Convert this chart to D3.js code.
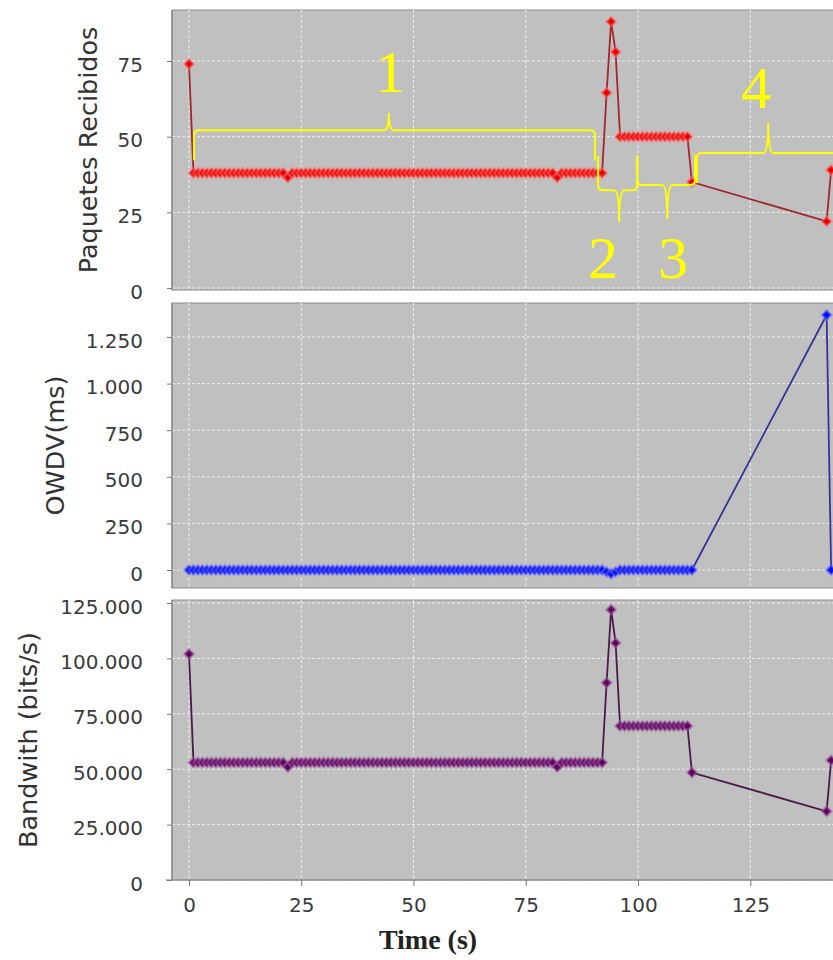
<!DOCTYPE html>
<html>
<head>
<meta charset="utf-8">
<script src="https://cdn.jsdelivr.net/npm/d3@7"></script>
<style>
  body { margin: 0; background: #fff; }
  svg { display: block; }
</style>
</head>
<body>
<svg id="chart" width="833" height="960"></svg>
<script>
// time axis (s)
var times = [
  0, 1, 2, 3, 4, 5, 6, 7, 8, 9, 10, 11, 12, 13, 14, 15, 16, 17, 18, 19,
  20, 21, 22, 23, 24, 25, 26, 27, 28, 29, 30, 31, 32, 33, 34, 35, 36, 37, 38, 39,
  40, 41, 42, 43, 44, 45, 46, 47, 48, 49, 50, 51, 52, 53, 54, 55, 56, 57, 58, 59,
  60, 61, 62, 63, 64, 65, 66, 67, 68, 69, 70, 71, 72, 73, 74, 75, 76, 77, 78, 79,
  80, 81, 82, 83, 84, 85, 86, 87, 88, 89, 90, 91, 92, 93, 94, 95, 96, 97, 98, 99,
  100, 101, 102, 103, 104, 105, 106, 107, 108, 109, 110, 111, 112, 142, 143
];

var paquetes = [
  74, 38, 38, 38, 38, 38, 38, 38, 38, 38, 38, 38, 38, 38, 38, 38, 38, 38, 38, 38,
  38, 38, 36.5, 38, 38, 38, 38, 38, 38, 38, 38, 38, 38, 38, 38, 38, 38, 38, 38, 38,
  38, 38, 38, 38, 38, 38, 38, 38, 38, 38, 38, 38, 38, 38, 38, 38, 38, 38, 38, 38,
  38, 38, 38, 38, 38, 38, 38, 38, 38, 38, 38, 38, 38, 38, 38, 38, 38, 38, 38, 38,
  38, 38, 36.5, 38, 38, 38, 38, 38, 38, 38, 38, 38, 38, 64.5, 88, 78, 50, 50, 50, 50,
  50, 50, 50, 50, 50, 50, 50, 50, 50, 50, 50, 50, 35, 22, 39
];

var owdv = [
  0, 0, 0, 0, 0, 0, 0, 0, 0, 0, 0, 0, 0, 0, 0, 0, 0, 0, 0, 0,
  0, 0, 0, 0, 0, 0, 0, 0, 0, 0, 0, 0, 0, 0, 0, 0, 0, 0, 0, 0,
  0, 0, 0, 0, 0, 0, 0, 0, 0, 0, 0, 0, 0, 0, 0, 0, 0, 0, 0, 0,
  0, 0, 0, 0, 0, 0, 0, 0, 0, 0, 0, 0, 0, 0, 0, 0, 0, 0, 0, 0,
  0, 0, 0, 0, 0, 0, 0, 0, 0, 0, 0, 0, 0, -10, -20, -10, 0, 0, 0, 0,
  0, 0, 0, 0, 0, 0, 0, 0, 0, 0, 0, 0, 0, 1368, 0
];

var bandwidth = [
  102000, 53000, 53000, 53000, 53000, 53000, 53000, 53000, 53000, 53000,
  53000, 53000, 53000, 53000, 53000, 53000, 53000, 53000, 53000, 53000,
  53000, 53000, 51000, 53000, 53000, 53000, 53000, 53000, 53000, 53000,
  53000, 53000, 53000, 53000, 53000, 53000, 53000, 53000, 53000, 53000,
  53000, 53000, 53000, 53000, 53000, 53000, 53000, 53000, 53000, 53000,
  53000, 53000, 53000, 53000, 53000, 53000, 53000, 53000, 53000, 53000,
  53000, 53000, 53000, 53000, 53000, 53000, 53000, 53000, 53000, 53000,
  53000, 53000, 53000, 53000, 53000, 53000, 53000, 53000, 53000, 53000,
  53000, 53000, 51000, 53000, 53000, 53000, 53000, 53000, 53000, 53000,
  53000, 53000, 53000, 89000, 122000, 107000, 69500, 69500, 69500, 69500,
  69500, 69500, 69500, 69500, 69500, 69500, 69500, 69500, 69500, 69500,
  69500, 69500, 48500, 31000, 54000
];

var xTicks = [0, 25, 50, 75, 100, 125];
var paquetesTicks = [0, 25, 50, 75];
var owdvTicks = [0, 250, 500, 750, 1000, 1250];
var bandwidthTicks = [0, 25000, 50000, 75000, 100000, 125000];

// yellow phase braces on the top panel (time / packets units)
var braceLabels = ["1", "2", "3", "4"];
var braceStart = [1.1, 91.1, 99.8, 113.1];
var braceEnd = [90.4, 99.8, 112.7, 150];
var braceMid = [44.5, 95.8, 106.5, 129];
var braceLine = [52.1, 32.3, 34, 44.6];
var braceTip = [42.2, 43.6, 43.9, 34.7];
var braceCusp = [57.8, 21.8, 22.8, 54.5];
var labelX = [44.8, 92.2, 107.8, 126.3];
var labelY = [64.7, 3.3, 3.3, 59.4];

var fmt = d3.formatLocale({decimal: ",", thousands: ".", grouping: [3], currency: ["", ""]}).format(",");

var svg = d3.select("#chart");
var plotLeft = 172, plotRight = 860;

var x = d3.scaleLinear().domain([0, 125]).range([189, 750.3]);

var panels = [
  {values: paquetes, ticks: paquetesTicks, title: "Paquetes Recibidos", top: 10, bottom: 290,
   y: d3.scaleLinear().domain([0, 75]).range([288, 61]),
   marker: "#e80000", halo: "#ff6a6a", line: "#a3262a", titleX: 88},
  {values: owdv, ticks: owdvTicks, title: "OWDV(ms)", top: 303, bottom: 588,
   y: d3.scaleLinear().domain([0, 1250]).range([570, 337]),
   marker: "#0010e8", halo: "#6a6aff", line: "#333399", titleX: 55},
  {values: bandwidth, ticks: bandwidthTicks, title: "Bandwith (bits/s)", top: 600, bottom: 880,
   y: d3.scaleLinear().domain([0, 125000]).range([880, 603]),
   marker: "#5e005e", halo: "#a060a0", line: "#4a1a4a", titleX: 28}
];

var diamond = d3.symbol().type(d3.symbolSquare).size(44);

panels.forEach(function(p, i) {
  var g = svg.append("g");

  g.append("rect")
    .attr("x", plotLeft)
    .attr("y", p.top)
    .attr("width", plotRight - plotLeft)
    .attr("height", p.bottom - p.top)
    .attr("fill", "#c0c0c0")
    .attr("stroke", "#8c8c8c");

  // grid
  g.selectAll(".vgrid")
    .data(xTicks)
    .enter()
    .append("line")
    .attr("x1", function(d) { return x(d); })
    .attr("x2", function(d) { return x(d); })
    .attr("y1", p.top)
    .attr("y2", p.bottom)
    .attr("stroke", "#eeeeee")
    .attr("stroke-dasharray", "3,2");

  g.selectAll(".hgrid")
    .data(p.ticks)
    .enter()
    .append("line")
    .attr("x1", plotLeft)
    .attr("x2", plotRight)
    .attr("y1", function(d) { return p.y(d); })
    .attr("y2", function(d) { return p.y(d); })
    .attr("stroke", "#eeeeee")
    .attr("stroke-dasharray", "3,2");

  // Y axis
  var yAxis = d3.axisLeft(p.y)
    .tickValues(p.ticks)
    .tickSize(5)
    .tickPadding(24)
    .tickFormat(fmt);

  var ya = g.append("g")
    .attr("transform", "translate(" + plotLeft + ",0)")
    .call(yAxis);
  ya.select(".domain").attr("stroke", "#777").attr("d", "M0," + p.top + "V" + p.bottom);
  ya.selectAll(".tick line").attr("stroke", "#777");
  ya.selectAll("text")
    .attr("dy", "0.5em")
    .style("font-family", "DejaVu Sans")
    .style("font-size", "20px")
    .attr("fill", "#3a3a3a");

  g.append("text")
    .attr("transform", "translate(" + p.titleX + "," + (p.top + p.bottom) / 2 + ")rotate(-90)")
    .attr("text-anchor", "middle")
    .attr("dy", "0.36em")
    .style("font-family", "DejaVu Sans")
    .style("font-size", "25.5px")
    .attr("fill", "#333")
    .text(p.title);

  // series
  var line = d3.line()
    .x(function(d, j) { return x(times[j]); })
    .y(function(d) { return p.y(d); });

  g.append("path")
    .datum(p.values)
    .attr("d", line)
    .attr("fill", "none")
    .attr("stroke", p.line)
    .attr("stroke-width", 1.8);

  g.selectAll(".pt")
    .data(p.values)
    .enter()
    .append("path")
    .attr("d", diamond)
    .attr("transform", function(d, j) {
      return "translate(" + x(times[j]) + "," + p.y(d) + ")rotate(45)";
    })
    .attr("fill", p.marker)
    .attr("stroke", p.halo)
    .attr("stroke-opacity", 0.5)
    .attr("stroke-width", 2.5);
});

// X axis under the bottom panel
var xAxis = d3.axisBottom(x)
  .tickValues(xTicks)
  .tickSize(6)
  .tickPadding(12);

var xa = svg.append("g")
  .attr("transform", "translate(0,880)")
  .call(xAxis);
xa.select(".domain").attr("stroke", "#777").attr("d", "M166,0H" + plotRight);
xa.selectAll(".tick line").attr("stroke", "#777");
xa.selectAll("text")
  .style("font-family", "DejaVu Sans")
  .style("font-size", "20px")
  .attr("fill", "#3a3a3a");

svg.append("text")
  .attr("x", 428)
  .attr("y", 949)
  .attr("text-anchor", "middle")
  .style("font-family", "Liberation Serif")
  .style("font-weight", "bold")
  .style("font-size", "28px")
  .attr("fill", "#222")
  .text("Time (s)");

// braces
var yTop = panels[0].y;
function bracePath(i) {
  var x0 = x(braceStart[i]), x1 = x(braceEnd[i]), xc = x(braceMid[i]);
  var yl = yTop(braceLine[i]), yt = yTop(braceTip[i]), yc = yTop(braceCusp[i]);
  var r = 5;
  var s = yl > yt ? 1 : -1;
  return "M" + x0 + "," + yt +
    "L" + x0 + "," + (yl - s * r) +
    "Q" + x0 + "," + yl + " " + (x0 + r) + "," + yl +
    "L" + (xc - r) + "," + yl +
    "Q" + xc + "," + yl + " " + xc + "," + yc +
    "Q" + xc + "," + yl + " " + (xc + r) + "," + yl +
    "L" + (x1 - r) + "," + yl +
    "Q" + x1 + "," + yl + " " + x1 + "," + (yl - s * r) +
    "L" + x1 + "," + yt;
}

svg.selectAll(".brace")
  .data(braceLabels)
  .enter()
  .append("path")
  .attr("d", function(d, i) { return bracePath(i); })
  .attr("fill", "none")
  .attr("stroke", "#ffff00")
  .attr("stroke-width", 2);

svg.selectAll(".blabel")
  .data(braceLabels)
  .enter()
  .append("text")
  .attr("x", function(d, i) { return x(labelX[i]); })
  .attr("y", function(d, i) { return yTop(labelY[i]); })
  .attr("text-anchor", "middle")
  .style("font-family", "Liberation Serif")
  .style("font-size", "60px")
  .attr("fill", "#ffff00")
  .text(function(d) { return d; });
</script>
</body>
</html>
